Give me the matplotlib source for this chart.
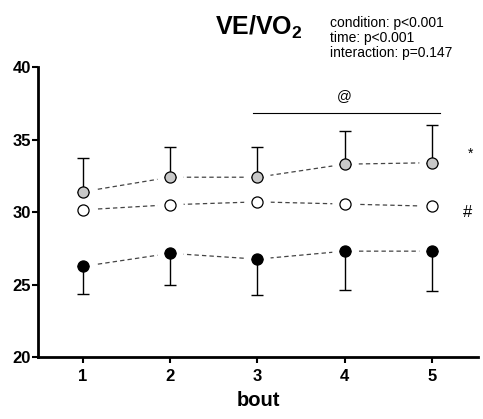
import matplotlib
matplotlib.use('Agg')
import matplotlib.pyplot as plt

plt.rcParams['font.family'] = ['Liberation Sans', 'DejaVu Sans']
plt.rcParams['mathtext.fontset'] = 'custom'
plt.rcParams['mathtext.rm'] = 'Liberation Sans'
plt.rcParams['mathtext.bf'] = 'Liberation Sans:bold'

bout = [1, 2, 3, 4, 5]

# gray condition (error bars upwards)
gray_mean = [31.4, 32.4, 32.4, 33.3, 33.4]
gray_sd = [2.3, 2.1, 2.1, 2.3, 2.6]
# white condition
white_mean = [30.15, 30.5, 30.7, 30.55, 30.4]
# black condition (error bars downwards)
black_mean = [26.25, 27.15, 26.75, 27.3, 27.3]
black_sd = [1.9, 2.2, 2.5, 2.65, 2.75]

stats_text = 'condition: p<0.001\ntime: p<0.001\ninteraction: p=0.147'

fig = plt.figure(figsize=(4.83, 4.19), dpi=100)
ax = fig.add_axes([0.0787, 0.148, 0.9109, 0.692])

series = [
    (gray_mean, '#c8c8c8', gray_sd, 'up'),
    (white_mean, 'white', None, None),
    (black_mean, 'black', black_sd, 'down'),
]

for mean, fc, sd, direction in series:
    ax.plot(bout, mean, linestyle=(0, (3.5, 2.5)), color='#444444', lw=0.9, zorder=1)
    # white halo so the dashed line stops short of the markers
    ax.plot(bout, mean, 'o', ms=19, mfc='white', mec='none', zorder=2)
    if sd is not None:
        if direction == 'up':
            yerr = [[0] * len(sd), sd]
        else:
            yerr = [sd, [0] * len(sd)]
        ax.errorbar(bout, mean, yerr=yerr, fmt='none', ecolor='black',
                    elinewidth=1, capsize=4.5, capthick=1, zorder=3)
    ax.plot(bout, mean, 'o', ms=8, mfc=fc, mec='black', mew=0.9, zorder=4)

ax.set_xlim(0.484, 5.53)
ax.set_ylim(20, 40)
ax.set_xticks(bout)
ax.set_yticks([20, 25, 30, 35, 40])
for lab in ax.get_xticklabels() + ax.get_yticklabels():
    lab.set_fontweight('bold')
ax.tick_params(axis='both', labelsize=12, width=1.5, length=4, direction='out', pad=1)
ax.tick_params(axis='x', pad=5)

for s in ['top', 'right']:
    ax.spines[s].set_visible(False)
for s in ['left', 'bottom']:
    ax.spines[s].set_linewidth(2)

ax.set_xlabel('bout', fontsize=14.5, fontweight='bold', labelpad=5)
fig.text(0.536, 0.902, r'$\mathbf{VE/VO_2}$', fontsize=18, ha='center', va='bottom')
fig.text(0.683, 0.963, stats_text, fontsize=10, ha='left', va='top', linespacing=1.1)

# significance line and markers
ax.plot([2.95, 5.09], [36.83, 36.83], color='black', lw=0.8)
ax.text(4, 37.5, '@', fontsize=10.5, ha='center', va='bottom')
ax.text(5.44, 34.0, '*', fontsize=10, ha='center', va='center')
ax.text(5.41, 30.0, '#', fontsize=12, ha='center', va='center')

fig.savefig('out.png', dpi=100)
